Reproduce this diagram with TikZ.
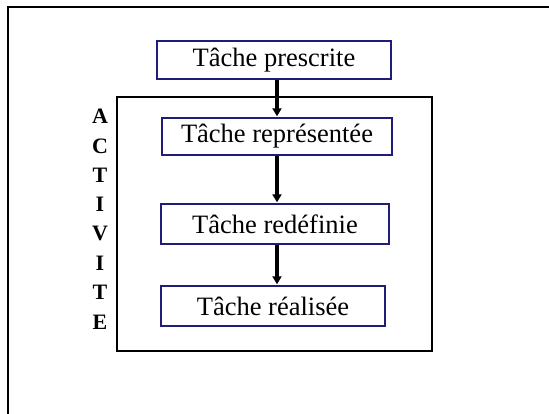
\documentclass[tikz,border=0pt]{standalone}
\usepackage{fontspec}
\setmainfont{Liberation Serif}
\usetikzlibrary{arrows.meta}

\definecolor{taskblue}{RGB}{30,30,120}
\tikzset{
  task/.style={draw=taskblue, line width=1.4pt, rectangle, inner sep=0pt, font=\fontsize{26.5}{30}\selectfont},
  flow/.style={line width=3.6pt, -{Triangle[length=8pt,width=9pt]}, shorten >=1pt},
  letter/.style={font=\fontsize{22}{24}\selectfont\bfseries, inner sep=0pt}
}

\begin{document}
\begin{tikzpicture}[x=1pt, y=-1pt]
				\useasboundingbox (0,0) rectangle (549,414);
				\draw[line width=1.4pt] (8,414) -- (8,7) -- (549,7);
				\node[draw, rectangle, line width=1.2pt, minimum width=315pt, minimum height=254pt] (activ)at(274.5, 224) {};
				\node[task, minimum width=234pt, minimum height=38pt] (presc)at(274, 60) {Tâche prescrite};
				\node[task, minimum width=230pt, minimum height=37pt] (repr)at(277, 136.5) {Tâche représentée};
				\node[task, minimum width=228pt, minimum height=40pt] (redef)at(275, 224) {Tâche redéfinie};
				\node[task, minimum width=224pt, minimum height=40pt] (real)at(273, 306) {Tâche réalisée};
				\foreach \l [count=\i] in {A,C,T,I,V,I,T,E}
					\node[letter] (l\i)at(100, 116.7+29.3*\i-29.3) {\l};
				\draw[flow] (presc.south -| repr.north) -- (repr.north);
				\draw[flow] (repr.south) -- (redef.north -| repr.south);
				\draw[flow] (redef.south -| repr.south) -- (real.north -| repr.south);
			\end{tikzpicture}
\end{document}
